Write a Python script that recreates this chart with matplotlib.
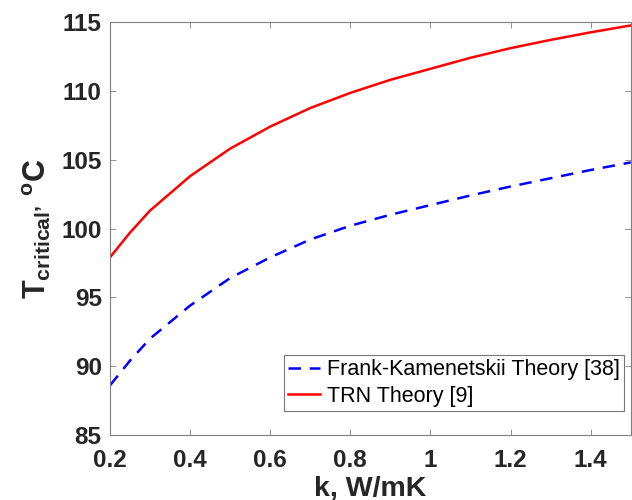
import matplotlib

matplotlib.use("Agg")

import matplotlib.pyplot as plt

# thermal conductivity, W/mK
k = [0.2, 0.25, 0.3, 0.4, 0.5, 0.6, 0.7, 0.8, 0.9, 1.0, 1.1, 1.2, 1.3, 1.4, 1.5]

# critical temperature, deg C
t_fk = [88.6, 90.4, 92.0, 94.4, 96.4, 97.9, 99.2, 100.2, 101.0, 101.7,
        102.4, 103.05, 103.65, 104.25, 104.8]
t_trn = [97.9, 99.7, 101.3, 103.8, 105.8, 107.4, 108.75, 109.85, 110.8, 111.6,
         112.4, 113.1, 113.7, 114.25, 114.75]

label_fk = "Frank-Kamenetskii Theory [38]"
label_trn = "TRN Theory [9]"

plt.rcParams["font.family"] = ["Liberation Sans", "DejaVu Sans"]
plt.rcParams["mathtext.fontset"] = "custom"
plt.rcParams["mathtext.rm"] = "Liberation Sans"
plt.rcParams["mathtext.bf"] = "Liberation Sans:bold"
plt.rcParams["mathtext.it"] = "Liberation Sans:italic"

fig = plt.figure(figsize=(6.32, 5.0), dpi=100)
ax = fig.add_axes([0.174, 0.13, 0.824, 0.826])

ax.plot(k, t_fk, color="#0000ff", linestyle=(0, (5, 3.5)), linewidth=1.8,
        label=label_fk)
ax.plot(k, t_trn, color="#ff0000", linestyle="-", linewidth=1.8,
        label=label_trn)

ax.set_xlim(0.2, 1.5)
ax.set_ylim(85, 115)
ax.set_xticks([0.2, 0.4, 0.6, 0.8, 1.0, 1.2, 1.4])
ax.set_xticklabels(["0.2", "0.4", "0.6", "0.8", "1", "1.2", "1.4"])
ax.set_yticks([85, 90, 95, 100, 105, 110, 115])

ax.tick_params(direction="in", length=4, width=0.6, color="#7f7f7f",
               top=True, right=True, labelsize=17.5)
ax.tick_params(axis="x", pad=10)
ax.tick_params(axis="y", pad=6)
for lbl in ax.get_xticklabels() + ax.get_yticklabels():
    lbl.set_fontweight("bold")
    lbl.set_color("#262626")
for sp in ax.spines.values():
    sp.set_color("#7f7f7f")
    sp.set_linewidth(0.8)

ax.set_xlabel("k, W/mK", fontsize=20.5, fontweight="bold", color="#262626",
              labelpad=2.5)
ax.set_ylabel(r"$\mathbf{T_{critical’}\ {}^{o}C}$", fontsize=22,
              color="#262626", labelpad=6)

leg = ax.legend(loc="lower right", bbox_to_anchor=(0.987, 0.058),
                fontsize=15.5, frameon=True, fancybox=False,
                handlelength=1.5, handletextpad=0.3, borderpad=0.2,
                labelspacing=0.25, borderaxespad=0.0)
leg.get_frame().set_edgecolor("#555555")
leg.get_frame().set_linewidth(0.8)

fig.savefig("out.png", dpi=100)
